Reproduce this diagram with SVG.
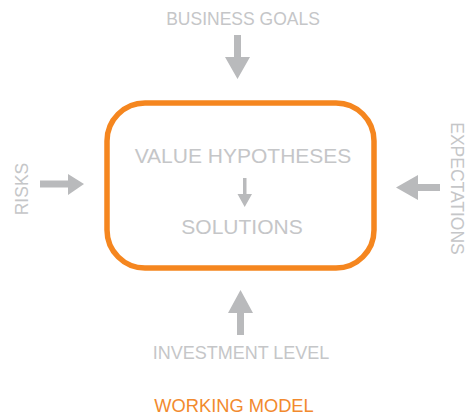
<svg xmlns="http://www.w3.org/2000/svg" width="475" height="418" viewBox="0 0 475 418">
  <style>
    .lbl { font-family: "Liberation Sans", Arial, sans-serif; fill: #c5c6c8; font-size: 17.5px; text-anchor: middle; }
    .inner { font-family: "Liberation Sans", Arial, sans-serif; fill: #c5c6c8; font-size: 21px; text-anchor: middle; }
    .arrow { fill: #b9babc; }
    .title { font-family: "Liberation Sans", Arial, sans-serif; fill: #f28a2e; font-size: 18.3px; text-anchor: middle; }
  </style>
  <rect width="475" height="418" fill="#ffffff"/>

  <!-- central working model box -->
  <g id="model">
    <rect x="107" y="103" width="267" height="165" rx="38" ry="38" fill="none" stroke="#f5861f" stroke-width="5.5"/>
    <text class="inner" x="243" y="163">VALUE HYPOTHESES</text>
    <text class="inner" x="242" y="234">SOLUTIONS</text>
  </g>

  <!-- input labels -->
  <g id="business-goals">
    <text class="lbl" x="243" y="25">BUSINESS GOALS</text>
  </g>
  <g id="risks">
    <text class="lbl" x="0" y="0" transform="translate(28,189) rotate(-90)">RISKS</text>
  </g>
  <g id="expectations">
    <text class="lbl" x="0" y="0" transform="translate(451,188.5) rotate(90)">EXPECTATIONS</text>
  </g>
  <g id="investment-level">
    <text class="lbl" x="241" y="359" style="font-size:18px">INVESTMENT LEVEL</text>
  </g>
  <g id="working-model-title">
    <text class="title" x="234" y="412">WORKING MODEL</text>
  </g>

  <!-- arrows -->
  <g id="connectors">
    <!-- top: down arrow -->
    <polygon class="arrow" points="234,35 241,35 241,57 250,57 237.5,79 225,57 234,57"/>
    <!-- left: right arrow -->
    <polygon class="arrow" points="40,180.5 68,180.5 68,174 84,184 68,195 68,187.5 40,187.5"/>
    <!-- right: left arrow -->
    <polygon class="arrow" points="440,184 418,184 418,175 396,187.5 418,200 418,191 440,191"/>
    <!-- bottom: up arrow -->
    <polygon class="arrow" points="237,335 244,335 244,313 253,313 240.5,290 228,313 237,313"/>
    <!-- inner: hypotheses to solutions -->
    <polygon class="arrow" points="243,178 246.5,178 246.5,194 252,194 244.7,207 237.5,194 243,194"/>
  </g>
</svg>
